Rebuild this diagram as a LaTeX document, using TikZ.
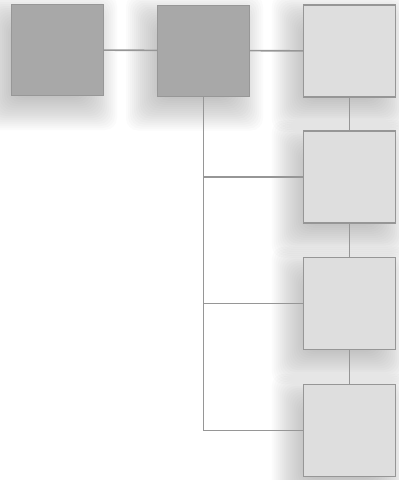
\documentclass[tikz,border=0pt]{standalone}
\usepackage{tikz}
\usetikzlibrary{
  positioning,
  backgrounds
}
\definecolor{darkbox}{RGB}{168,168,168}
\definecolor{lightbox}{RGB}{222,222,222}
\definecolor{edgegray}{RGB}{150,150,150}
\tikzset{
  darkblock/.style={draw=darkbox!90!black, fill=darkbox, line width=1pt,
    minimum width=92pt, minimum height=91pt, inner sep=0pt},
  lightblock/.style={draw=edgegray, fill=lightbox, line width=1.3pt,
    minimum width=92pt, minimum height=92pt, inner sep=0pt},
  link/.style={draw=edgegray, line width=1.6pt},
}

\begin{document}
\begin{tikzpicture}[x=1pt, y=1pt]
  \useasboundingbox (0,0) rectangle (399,-480);

  % Top row
  \node[darkblock] (root) at (57.5,-50) {};
  \node[darkblock] (hub) at (203.5,-50.5) {};

  % Right column
  \node[lightblock] (s1) at (349.5,-51) {};
  \node[lightblock] (s2) at (349.5,-177) {};
  \node[lightblock] (s3) at (349.5,-303.5) {};
  \node[lightblock] (s4) at (349.5,-430.5) {};

  % Soft shadows
  \begin{scope}[on background layer]
    \foreach \n in {root,hub,s1,s2,s3,s4}{
      \foreach \r in {-16,-14,...,22}{
        \fill[black, opacity=0.017, rounded corners=12pt]
          ([xshift=-9pt-\r pt, yshift=-12pt-\r pt]\n.south west)
          rectangle ([xshift=-9pt+\r pt, yshift=-12pt+\r pt]\n.north east);
      }
    }
  \end{scope}

  % Connectors
  \draw[link] (root) -- (hub);
  \draw[link] (hub) -- (s1);
  \draw[link] (s1) -- (s2);
  \draw[link] (s2) -- (s3);
  \draw[link] (s3) -- (s4);
  \draw[link] (hub.south) |- (s4);
  \draw[link] (hub.south |- s2) -- (s2);
  \draw[link] (hub.south |- s3) -- (s3);
\end{tikzpicture}
\end{document}
